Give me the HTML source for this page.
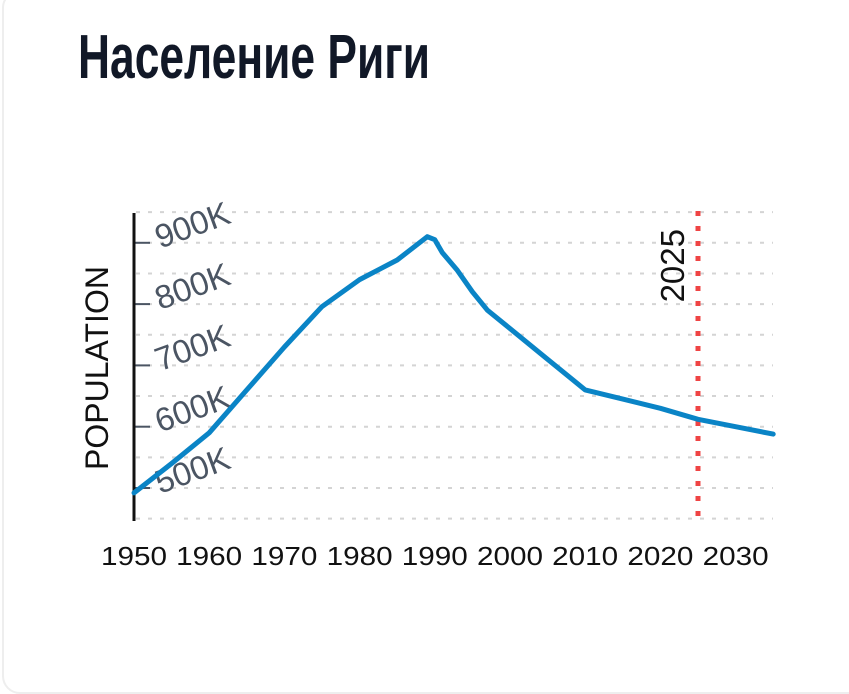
<!DOCTYPE html>
<html><head><meta charset="utf-8"><style>
html,body{margin:0;padding:0;background:#fff;width:849px;height:603px;overflow:hidden}
.card{position:absolute;left:2px;top:-10px;width:880px;height:700px;border:2px solid #eee;border-radius:18px;}
svg{position:absolute;left:0;top:0}
</style></head><body>
<div class="card"></div>
<svg width="849" height="603">
<text x="78" y="78" font-family="'Liberation Sans Narrow','Liberation Sans',sans-serif" font-size="62" font-weight="bold" fill="#111827" textLength="352" lengthAdjust="spacingAndGlyphs">Население Риги</text>
<g id="grid"></g><g id="yticks"></g><g id="xticks"></g>
<line x1="134" y1="213" x2="134" y2="521" stroke="#111" stroke-width="3"/>
<text transform="translate(108,368) rotate(-90)" text-anchor="middle" font-family="'Liberation Sans',sans-serif" font-size="32" fill="#111">POPULATION</text>
<g id="marker"></g>
<path id="line" fill="none" stroke="#0a84c6" stroke-width="5" stroke-linejoin="round" stroke-linecap="round"/>
</svg>
<script>
const years=[1950,1955,1960,1965,1970,1975,1980,1985,1989,1990,1991,1993,1995,1997,2000,2005,2010,2015,2020,2025,2030,2035];
const population=[492,540,590,660,730,796,840,872,910,905,884,855,820,790,760,710,660,645,630,612,600,588];
const yTicks=[500,600,700,800,900];
const yTickLabels=["500K","600K","700K","800K","900K"];
const xTicks=[1950,1960,1970,1980,1990,2000,2010,2020,2030];
const markerYear=2025;
const markerLabel="2025";
const NS="http://www.w3.org/2000/svg";
const x=v=>134+(v-1950)*7.52;
const y=v=>488-(v-500)*0.613;
function mk(t,a,p){const e=document.createElementNS(NS,t);for(const k in a)e.setAttribute(k,a[k]);p.appendChild(e);return e;}
const grid=document.getElementById('grid');
for(let v=450;v<=950;v+=50){
 const g=mk('line',{x1:136,x2:773,y1:y(v),y2:y(v),stroke:'#d4d4d4','stroke-width':2,'stroke-dasharray':'4 8'},grid);
 
 
}
const yt=document.getElementById('yticks');
yTicks.forEach((v,i)=>{
 const l=mk('line',{x1:134,x2:150,y1:y(v),y2:y(v),stroke:'#4b5563','stroke-width':2},yt);
 
 
 const t=mk('text',{transform:`translate(160,${y(v)+6}) rotate(-20)`,'font-family':"'Liberation Sans',sans-serif",'font-size':33,fill:'#4b5563'},yt);
 t.textContent=yTickLabels[i];
 
 
});
const xt=document.getElementById('xticks');
xTicks.forEach(v=>{
 const t=mk('text',{x:x(v),y:565,'text-anchor':'middle','font-family':"'Liberation Sans',sans-serif",'font-size':26,fill:'#111',textLength:66,lengthAdjust:'spacingAndGlyphs'},xt);
 t.textContent=v;
 
 
});
const mg=document.getElementById('marker');
const ml=mk('line',{x1:x(markerYear),x2:x(markerYear),y1:211,y2:521,stroke:'#ef4444','stroke-width':5,'stroke-dasharray':'5 10'},mg);


const mt=mk('text',{transform:`translate(${x(markerYear)-14},229) rotate(-90)`,'text-anchor':'end','font-family':"'Liberation Sans',sans-serif",'font-size':33,fill:'#111'},mg);
mt.textContent=markerLabel;


document.getElementById('line').setAttribute('d',years.map((yr,i)=>(i?'L':'M')+x(yr).toFixed(1)+','+y(population[i]).toFixed(1)).join(''));
</script>
</body></html>
